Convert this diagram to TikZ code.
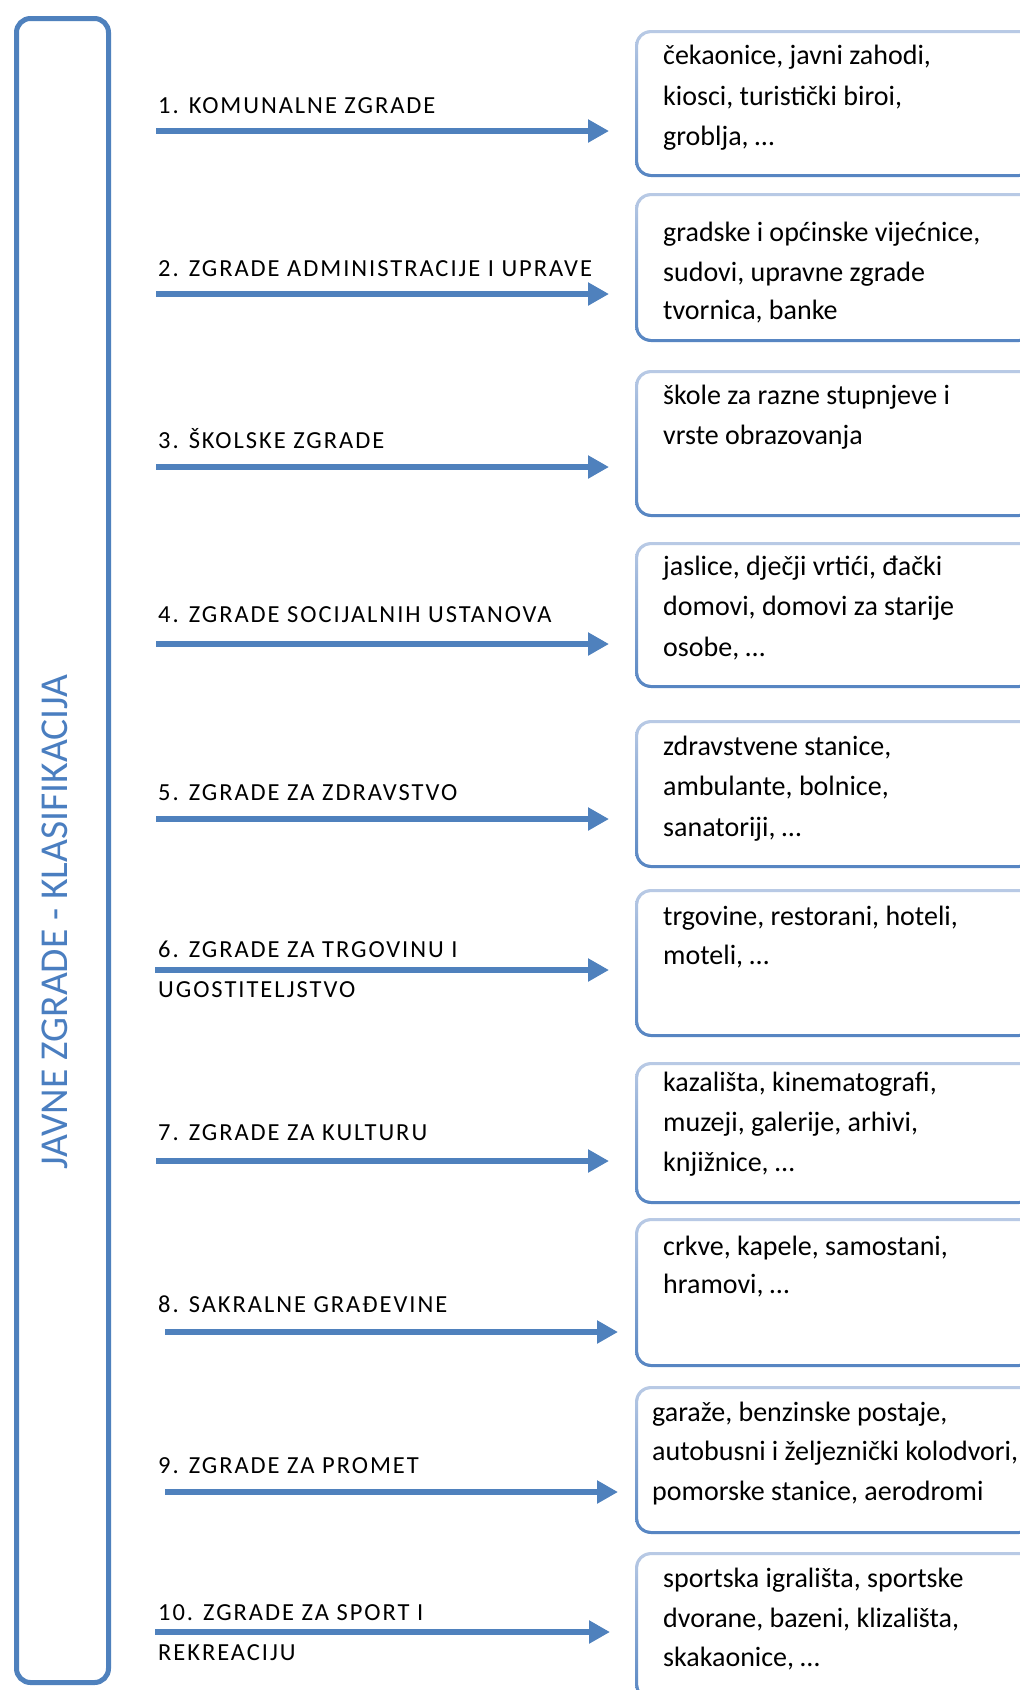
\documentclass[tikz,border=0pt]{standalone}
\usepackage{fontspec}
\setmainfont{Carlito}
\newfontfamily\labfont[LetterSpace=8]{Carlito}
\usetikzlibrary{arrows.meta}
\definecolor{accent}{HTML}{4F81BD}
\definecolor{boxtop}{HTML}{B9CAE5}
\definecolor{boxbot}{HTML}{5685C2}
\definecolor{titleblue}{HTML}{4A7EC0}
\newcommand\rbox[3]{%
  \path[even odd rule, top color=boxtop, bottom color=boxbot]
    [rounded corners=16pt] (635,#2) rectangle (1035,#3)
    [rounded corners=13pt] (638,#2+3) rectangle (1032,#3-3);
  \coordinate (#1) at (635,{(#2+#3)/2});
}
\begin{document}
\begin{tikzpicture}[x=1pt,y=-1pt,
  lab/.style={anchor=base west, inner sep=0pt, font=\labfont\fontsize{24.5}{40}\selectfont},
  itm/.style={anchor=base west, inner sep=0pt, font=\fontsize{28}{40}\selectfont},
  arr/.style={draw=accent, line width=6pt, -{Triangle[length=21pt,width=22pt]}},
  mainbox/.style={draw=accent, line width=5pt, rounded corners=14pt, anchor=north west, inner sep=0pt, minimum width=92pt, minimum height=1664pt}
]
\fill[white] (0,0) rectangle (1020,1690);
\useasboundingbox (0,0) rectangle (1020,1690);

% left frame with title
\node[mainbox] (main) at (14,16) {};
\node[rotate=90, inner sep=0pt, text=titleblue, font=\fontsize{39.5}{42}\selectfont] (title) at (55,922) {JAVNE ZGRADE - KLASIFIKACIJA};

% right boxes
\rbox{r1}{30}{177}
\rbox{r2}{193}{342}
\rbox{r3}{370}{517}
\rbox{r4}{542}{688}
\rbox{r5}{720}{868}
\rbox{r6}{889}{1037}
\rbox{r7}{1062}{1204}
\rbox{r8}{1218}{1367}
\rbox{r9}{1386}{1534}
\rbox{r10}{1552}{1700}

% labels
\node[lab] (l1) at (158,113) {1. KOMUNALNE ZGRADE};
\node[lab] (l2) at (158,276) {2. ZGRADE ADMINISTRACIJE I UPRAVE};
\node[lab] (l3) at (158,448) {3. ŠKOLSKE ZGRADE};
\node[lab] (l4) at (158,622) {4. ZGRADE SOCIJALNIH USTANOVA};
\node[lab] (l5) at (158,800) {5. ZGRADE ZA ZDRAVSTVO};
\node[lab] (l6a) at (158,957) {6. ZGRADE ZA TRGOVINU I};
\node[lab] (l6b) at (158,997) {UGOSTITELJSTVO};
\node[lab] (l7) at (158,1140) {7. ZGRADE ZA KULTURU};
\node[lab] (l8) at (158,1312) {8. SAKRALNE GRAĐEVINE};
\node[lab] (l9) at (158,1473) {9. ZGRADE ZA PROMET};
\node[lab] (l10a) at (158,1620) {10. ZGRADE ZA SPORT I};
\node[lab] (l10b) at (158,1660) {REKREACIJU};

% arrows
\coordinate (a1) at (156,131);  \coordinate (t1) at (609,131);
\coordinate (a2) at (156,294);  \coordinate (t2) at (609,294);
\coordinate (a3) at (156,467);  \coordinate (t3) at (609,467);
\coordinate (a4) at (156,644);  \coordinate (t4) at (609,644);
\coordinate (a5) at (156,819);  \coordinate (t5) at (609,819);
\coordinate (a6) at (155,970);  \coordinate (t6) at (609,970);
\coordinate (a7) at (156,1161); \coordinate (t7) at (609,1161);
\coordinate (a8) at (165,1332); \coordinate (t8) at (618,1332);
\coordinate (a9) at (165,1492); \coordinate (t9) at (618,1492);
\coordinate (a10) at (155,1632); \coordinate (t10) at (610,1632);
\foreach \i in {1,...,10} { \draw[arr] (a\i) -- (t\i); }

% box texts
\node[itm] (i1a) at (663,64)  {čekaonice, javni zahodi,};
\node[itm] (i1b) at (663,105) {kiosci, turistički biroi,};
\node[itm] (i1c) at (663,145) {groblja, …};

\node[itm] (i2a) at (663,241) {gradske i općinske vijećnice,};
\node[itm] (i2b) at (663,281) {sudovi, upravne zgrade};
\node[itm] (i2c) at (663,319) {tvornica, banke};

\node[itm] (i3a) at (663,404) {škole za razne stupnjeve i};
\node[itm] (i3b) at (663,444) {vrste obrazovanja};

\node[itm] (i4a) at (663,575) {jaslice, dječji vrtići, đački};
\node[itm] (i4b) at (663,615) {domovi, domovi za starije};
\node[itm] (i4c) at (663,656) {osobe, …};

\node[itm] (i5a) at (663,755) {zdravstvene stanice,};
\node[itm] (i5b) at (663,795) {ambulante, bolnice,};
\node[itm] (i5c) at (663,836) {sanatoriji, …};

\node[itm] (i6a) at (663,925) {trgovine, restorani, hoteli,};
\node[itm] (i6b) at (663,964) {moteli, …};

\node[itm] (i7a) at (663,1091) {kazališta, kinematografi,};
\node[itm] (i7b) at (663,1131) {muzeji, galerije, arhivi,};
\node[itm] (i7c) at (663,1171) {knjižnice, …};

\node[itm] (i8a) at (663,1255) {crkve, kapele, samostani,};
\node[itm] (i8b) at (663,1293) {hramovi, …};

\node[itm] (i9a) at (652,1421) {garaže, benzinske postaje,};
\node[itm] (i9b) at (652,1460) {autobusni i željeznički kolodvori,};
\node[itm] (i9c) at (652,1500) {pomorske stanice, aerodromi};

\node[itm] (i10a) at (663,1587) {sportska igrališta, sportske};
\node[itm] (i10b) at (663,1627) {dvorane, bazeni, klizališta,};
\node[itm] (i10c) at (663,1666) {skakaonice, …};
\end{tikzpicture}
\end{document}
